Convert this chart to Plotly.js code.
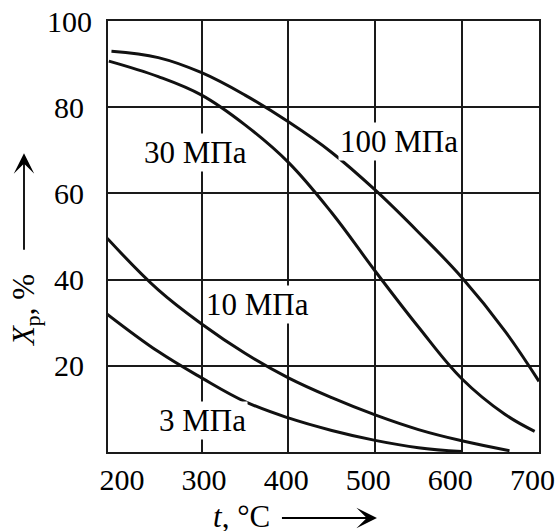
<!DOCTYPE html>
<html>
<head>
<meta charset="utf-8">
<script src="https://cdn.plot.ly/plotly-3.0.1.min.js"></script>
<style>html,body{margin:0;padding:0;background:#fff;}#chart{width:560px;height:531px;}</style>
</head>
<body>
<div id="chart"></div>
<script>
// temperatures (°C) and equilibrium conversion X_p (%)
const t100 = [196, 250, 300, 350, 400, 450, 500, 550, 600, 650, 689];
const x100 = [93.0, 91.5, 88.0, 82.8, 76.6, 69.5, 60.8, 51.0, 40.5, 28.0, 16.4];
const t30 = [193, 250, 300, 350, 400, 450, 500, 550, 600, 650, 684];
const x30 = [90.7, 87.1, 82.8, 75.9, 67.2, 55.5, 42.0, 29.0, 17.0, 8.7, 4.8];
const t10 = [191, 250, 300, 350, 400, 450, 500, 550, 600, 655];
const x10 = [49.6, 37.6, 29.7, 22.9, 17.2, 12.6, 8.6, 5.2, 2.6, 0.3];
const t3 = [191, 250, 300, 350, 400, 450, 500, 550, 600];
const x3 = [32.0, 23.3, 17.2, 11.7, 7.9, 5.0, 2.7, 1.0, 0.1];

const seriesNames = ['100 МПа', '30 МПа', '10 МПа', '3 МПа'];
// label anchor points (t, X_p) for each series name
const labelT = [528, 293, 364, 301];
const labelX = [72.0, 69.5, 34.2, 7.3];

const xTickLabels = [200, 300, 400, 500, 600, 700];
const yTickLabels = [20, 40, 60, 80, 100];

const FONT = 'Liberation Serif, Times New Roman, serif';
const ink = '#111';

const lineStyle = {color: ink, width: 3, shape: 'spline', smoothing: 1.1};
const series = [[t100, x100], [t30, x30], [t10, x10], [t3, x3]];
const data = series.map((s, i) => ({
  x: s[0], y: s[1], type: 'scatter', mode: 'lines', name: seriesNames[i],
  line: lineStyle, showlegend: false, hoverinfo: 'skip'
}));
// carrier for the tick-label axis
data.push({x: xTickLabels, y: xTickLabels.map(() => null), xaxis: 'x2', yaxis: 'y',
  type: 'scatter', mode: 'markers', showlegend: false, hoverinfo: 'skip'});

const xRange = [192, 689];
const annotations = [];
seriesNames.forEach((n, i) => annotations.push({
  x: labelT[i], y: labelX[i], xref: 'x', yref: 'y', text: n, showarrow: false,
  font: {family: FONT, size: 31, color: '#000'}, bgcolor: '#fff', borderpad: 1,
  xanchor: 'center', yanchor: 'middle'
}));
yTickLabels.forEach(v => annotations.push({
  x: 0, xref: 'paper', xshift: -39, y: v, yref: 'y', text: String(v), showarrow: false,
  xanchor: 'center', yanchor: 'middle', font: {family: FONT, size: 30, color: '#000'}
}));
// axis titles
annotations.push({
  x: 0, xref: 'paper', xshift: -82, y: 0.327, yref: 'paper', text: '<i>X</i><sub>p</sub>, %',
  textangle: -90, showarrow: false, xanchor: 'center', yanchor: 'middle',
  font: {family: FONT, size: 31, color: '#000'}
});
annotations.push({
  x: 0.3097, xref: 'paper', y: 0, yref: 'paper', yshift: -64, text: '<i>t</i>, °C',
  showarrow: false, xanchor: 'center', yanchor: 'middle',
  font: {family: FONT, size: 31, color: '#000'}
});
// direction arrows
annotations.push({
  x: -0.1949, xref: 'paper', y: 0.693, yref: 'paper', text: ' ', showarrow: true,
  axref: 'pixel', ayref: 'pixel', ax: 0, ay: 99, arrowhead: 3, arrowsize: 1.9,
  arrowwidth: 1.8, arrowcolor: '#000', standoff: 0, font: {size: 2}
});
annotations.push({
  x: 0.624, xref: 'paper', y: -0.1531, yref: 'paper', text: ' ', showarrow: true,
  axref: 'pixel', ayref: 'pixel', ax: -97, ay: 0, arrowhead: 3, arrowsize: 1.9,
  arrowwidth: 1.8, arrowcolor: '#000', standoff: 0, font: {size: 2}
});

const layout = {
  width: 560, height: 531,
  margin: {l: 108, r: 21, t: 21, b: 79, pad: 0},
  paper_bgcolor: '#fff', plot_bgcolor: '#fff',
  font: {family: FONT, size: 30, color: '#000'},
  showlegend: false,
  xaxis: {
    range: xRange, tickvals: xTickLabels.filter(v => v > xRange[0] + 20 && v < xRange[1] - 20),
    showticklabels: false, ticks: '', showgrid: true, gridcolor: '#1a1a1a', gridwidth: 2,
    showline: true, linecolor: '#1a1a1a', linewidth: 2, mirror: true, zeroline: false, fixedrange: true
  },
  xaxis2: {
    overlaying: 'x', anchor: 'y', side: 'bottom', range: [183, 708],
    tickvals: xTickLabels, ticktext: xTickLabels.map(String), ticks: '',
    ticklabelstandoff: 7,
    showgrid: false, showline: false, zeroline: false,
    tickfont: {family: FONT, size: 30, color: '#000'}, fixedrange: true
  },
  yaxis: {
    range: [0, 100], tickvals: yTickLabels, showticklabels: false, ticks: '',
    showgrid: true, gridcolor: '#1a1a1a', gridwidth: 2,
    showline: true, linecolor: '#1a1a1a', linewidth: 2, mirror: true, zeroline: false, fixedrange: true
  },
  annotations: annotations
};

Plotly.newPlot('chart', data, layout, {displayModeBar: false, staticPlot: true});
</script>
</body>
</html>
